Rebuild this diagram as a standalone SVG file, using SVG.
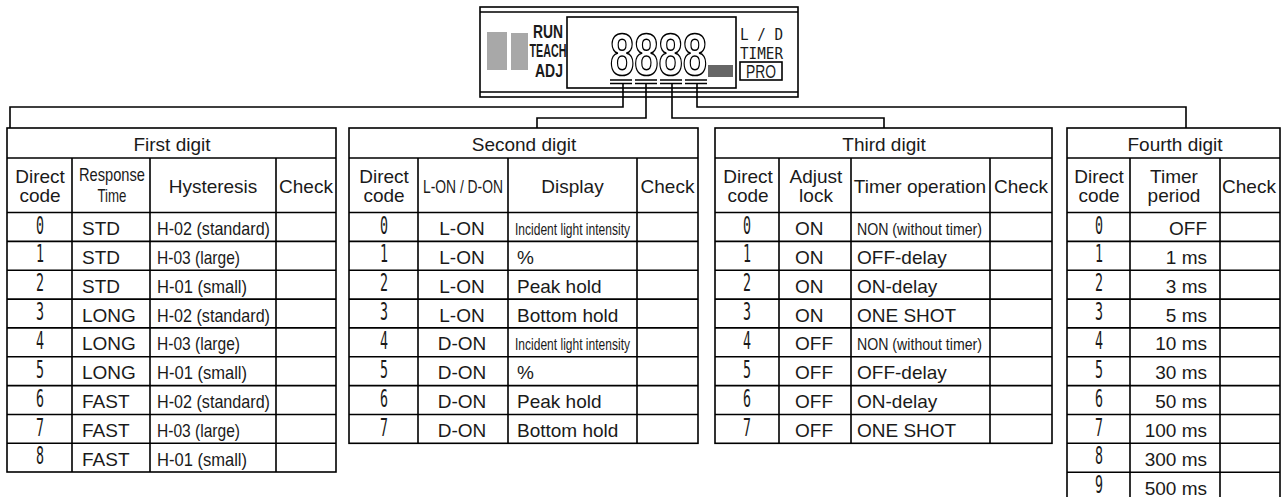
<svg xmlns="http://www.w3.org/2000/svg" width="1282" height="497" viewBox="0 0 1282 497">
<style>
.ln{stroke:#000;stroke-width:1.6;fill:none}
.t{font-family:"Liberation Sans",Arial,sans-serif;font-size:19px;fill:#1a1a1a}
.c{text-anchor:middle}
.r{text-anchor:end}
.sm{font-size:17px}
.dg{font-family:"DejaVu Sans Mono",monospace;font-size:24px;text-anchor:middle;fill:#1a1a1a}
.mono{font-family:"DejaVu Sans Mono","Liberation Mono",monospace;font-size:15px;fill:#1a1a1a}
.seg{font-family:"Liberation Sans",Arial,sans-serif;font-size:60px;font-weight:bold;fill:none;stroke:#000;stroke-width:1.6}
</style>
<rect width="1282" height="497" fill="#fff"/>
<g id="device">
<rect class="ln" x="480" y="7" width="318" height="90"/>
<path class="ln" d="M480 12H798M480 92H798"/>
<rect x="487" y="32" width="20" height="38" fill="#a8a8a8"/>
<rect x="511" y="33" width="17" height="37" fill="#a8a8a8"/>
<text class="t c" x="548" y="38" font-size="14" font-weight="bold" textLength="30" lengthAdjust="spacingAndGlyphs">RUN</text>
<text class="t c" x="548" y="57" font-size="11" font-weight="bold" textLength="37" lengthAdjust="spacingAndGlyphs">TEACH</text>
<text class="t c" x="549" y="77" font-size="17" font-weight="bold" textLength="28" lengthAdjust="spacingAndGlyphs">ADJ</text>
<rect class="ln" x="567" y="17" width="169" height="71"/>
<text class="seg" x="610" y="75" textLength="97" lengthAdjust="spacingAndGlyphs">8888</text>
<path class="ln" stroke-width="1.2" d="M610 80h22M610 83.5h22M635 80h22M635 83.5h22M660 80h22M660 83.5h22M685 80h22M685 83.5h22"/>
<rect x="708" y="65" width="25" height="12" fill="#666"/>
<text class="mono" x="740" y="40" textLength="43" lengthAdjust="spacingAndGlyphs">L / D</text>
<text class="mono" x="740" y="59" textLength="43" lengthAdjust="spacingAndGlyphs">TIMER</text>
<rect class="ln" stroke-width="1.4" x="740" y="62" width="42" height="18"/>
<text class="t c" x="761" y="78" font-size="17" textLength="30" lengthAdjust="spacingAndGlyphs">PRO</text>
</g>
<g id="connectors">
<path class="ln" d="M623 83V107H10V128M646 83V118H537V128M672 83V118H884V128M697 83V107H1186V128"/>
</g>
<g id="table1">
<rect class="ln" x="7" y="128" width="329" height="344"/>
<path class="ln" d="M7 158H336M7 212.5H336M7 241.4H336M7 270.2H336M7 299.1H336M7 327.9H336M7 356.8H336M7 385.6H336M7 414.5H336M7 443.3H336M72 158V472M150 158V472M276 158V472"/>
<text class="t c" x="172" y="151">First digit</text>
<text class="t c" x="40" y="183">Direct</text>
<text class="t c" x="40" y="202">code</text>
<text class="t c" x="112" y="181" font-size="16" textLength="66" lengthAdjust="spacingAndGlyphs">Response</text>
<text class="t c" x="112" y="202" font-size="16" textLength="29" lengthAdjust="spacingAndGlyphs">Time</text>
<text class="t c" x="213" y="193">Hysteresis</text>
<text class="t c" x="306" y="193">Check</text>
<g class="dg">
<text x="40" y="233.5" textLength="8" lengthAdjust="spacingAndGlyphs">0</text>
<text x="40" y="262.4" textLength="8" lengthAdjust="spacingAndGlyphs">1</text>
<text x="40" y="291.2" textLength="8" lengthAdjust="spacingAndGlyphs">2</text>
<text x="40" y="320.1" textLength="8" lengthAdjust="spacingAndGlyphs">3</text>
<text x="40" y="348.9" textLength="8" lengthAdjust="spacingAndGlyphs">4</text>
<text x="40" y="377.8" textLength="8" lengthAdjust="spacingAndGlyphs">5</text>
<text x="40" y="406.6" textLength="8" lengthAdjust="spacingAndGlyphs">6</text>
<text x="40" y="435.5" textLength="8" lengthAdjust="spacingAndGlyphs">7</text>
<text x="40" y="464.3" textLength="8" lengthAdjust="spacingAndGlyphs">8</text>
</g>
<g class="t">
<text x="82" y="235">STD</text>
<text x="82" y="263.9">STD</text>
<text x="82" y="292.7">STD</text>
<text x="82" y="321.6">LONG</text>
<text x="82" y="350.4">LONG</text>
<text x="82" y="379.3">LONG</text>
<text x="82" y="408.1">FAST</text>
<text x="82" y="437">FAST</text>
<text x="82" y="465.8">FAST</text>
<text x="157" y="235" textLength="113" lengthAdjust="spacingAndGlyphs">H-02 (standard)</text>
<text x="157" y="263.9" textLength="83" lengthAdjust="spacingAndGlyphs">H-03 (large)</text>
<text x="157" y="292.7" textLength="90" lengthAdjust="spacingAndGlyphs">H-01 (small)</text>
<text x="157" y="321.6" textLength="113" lengthAdjust="spacingAndGlyphs">H-02 (standard)</text>
<text x="157" y="350.4" textLength="83" lengthAdjust="spacingAndGlyphs">H-03 (large)</text>
<text x="157" y="379.3" textLength="90" lengthAdjust="spacingAndGlyphs">H-01 (small)</text>
<text x="157" y="408.1" textLength="113" lengthAdjust="spacingAndGlyphs">H-02 (standard)</text>
<text x="157" y="437" textLength="83" lengthAdjust="spacingAndGlyphs">H-03 (large)</text>
<text x="157" y="465.8" textLength="90" lengthAdjust="spacingAndGlyphs">H-01 (small)</text>
</g>
</g>
<g id="table2">
<rect class="ln" x="349" y="128" width="349" height="315.3"/>
<path class="ln" d="M349 158H698M349 212.5H698M349 241.4H698M349 270.2H698M349 299.1H698M349 327.9H698M349 356.8H698M349 385.6H698M349 414.5H698M418 158V443.3M508 158V443.3M637 158V443.3"/>
<text class="t c" x="524" y="151">Second digit</text>
<text class="t c" x="384" y="183">Direct</text>
<text class="t c" x="384" y="202">code</text>
<text class="t c" x="463" y="193" font-size="17" textLength="80" lengthAdjust="spacingAndGlyphs">L-ON / D-ON</text>
<text class="t c" x="572.5" y="193">Display</text>
<text class="t c" x="667.5" y="193">Check</text>
<g class="dg">
<text x="384" y="233.5" textLength="8" lengthAdjust="spacingAndGlyphs">0</text>
<text x="384" y="262.4" textLength="8" lengthAdjust="spacingAndGlyphs">1</text>
<text x="384" y="291.2" textLength="8" lengthAdjust="spacingAndGlyphs">2</text>
<text x="384" y="320.1" textLength="8" lengthAdjust="spacingAndGlyphs">3</text>
<text x="384" y="348.9" textLength="8" lengthAdjust="spacingAndGlyphs">4</text>
<text x="384" y="377.8" textLength="8" lengthAdjust="spacingAndGlyphs">5</text>
<text x="384" y="406.6" textLength="8" lengthAdjust="spacingAndGlyphs">6</text>
<text x="384" y="435.5" textLength="8" lengthAdjust="spacingAndGlyphs">7</text>
</g>
<g class="t">
<text class="c" x="462" y="235">L-ON</text>
<text class="c" x="462" y="263.9">L-ON</text>
<text class="c" x="462" y="292.7">L-ON</text>
<text class="c" x="462" y="321.6">L-ON</text>
<text class="c" x="462" y="350.4">D-ON</text>
<text class="c" x="462" y="379.3">D-ON</text>
<text class="c" x="462" y="408.1">D-ON</text>
<text class="c" x="462" y="437">D-ON</text>
<text class="sm" x="515" y="235" textLength="115" lengthAdjust="spacingAndGlyphs">Incident light intensity</text>
<text x="517" y="263.9">%</text>
<text x="517" y="292.7">Peak hold</text>
<text x="517" y="321.6">Bottom hold</text>
<text class="sm" x="515" y="350.4" textLength="115" lengthAdjust="spacingAndGlyphs">Incident light intensity</text>
<text x="517" y="379.3">%</text>
<text x="517" y="408.1">Peak hold</text>
<text x="517" y="437">Bottom hold</text>
</g>
</g>
<g id="table3">
<rect class="ln" x="715" y="128" width="337" height="315.3"/>
<path class="ln" d="M715 158H1052M715 212.5H1052M715 241.4H1052M715 270.2H1052M715 299.1H1052M715 327.9H1052M715 356.8H1052M715 385.6H1052M715 414.5H1052M779 158V443.3M851 158V443.3M990 158V443.3"/>
<text class="t c" x="884" y="151">Third digit</text>
<text class="t c" x="748" y="183">Direct</text>
<text class="t c" x="748" y="202">code</text>
<text class="t c" x="816" y="183">Adjust</text>
<text class="t c" x="816" y="202">lock</text>
<text class="t c" x="920" y="193">Timer operation</text>
<text class="t c" x="1021" y="193">Check</text>
<g class="dg">
<text x="747" y="233.5" textLength="8" lengthAdjust="spacingAndGlyphs">0</text>
<text x="747" y="262.4" textLength="8" lengthAdjust="spacingAndGlyphs">1</text>
<text x="747" y="291.2" textLength="8" lengthAdjust="spacingAndGlyphs">2</text>
<text x="747" y="320.1" textLength="8" lengthAdjust="spacingAndGlyphs">3</text>
<text x="747" y="348.9" textLength="8" lengthAdjust="spacingAndGlyphs">4</text>
<text x="747" y="377.8" textLength="8" lengthAdjust="spacingAndGlyphs">5</text>
<text x="747" y="406.6" textLength="8" lengthAdjust="spacingAndGlyphs">6</text>
<text x="747" y="435.5" textLength="8" lengthAdjust="spacingAndGlyphs">7</text>
</g>
<g class="t">
<text x="795" y="235">ON</text>
<text x="795" y="263.9">ON</text>
<text x="795" y="292.7">ON</text>
<text x="795" y="321.6">ON</text>
<text x="795" y="350.4">OFF</text>
<text x="795" y="379.3">OFF</text>
<text x="795" y="408.1">OFF</text>
<text x="795" y="437">OFF</text>
<text class="sm" x="857" y="235" textLength="125" lengthAdjust="spacingAndGlyphs">NON (without timer)</text>
<text x="857" y="263.9">OFF-delay</text>
<text x="857" y="292.7">ON-delay</text>
<text x="857" y="321.6">ONE SHOT</text>
<text class="sm" x="857" y="350.4" textLength="125" lengthAdjust="spacingAndGlyphs">NON (without timer)</text>
<text x="857" y="379.3">OFF-delay</text>
<text x="857" y="408.1">ON-delay</text>
<text x="857" y="437">ONE SHOT</text>
</g>
</g>
<g id="table4">
<rect class="ln" x="1067" y="128" width="213" height="373"/>
<path class="ln" d="M1067 158H1280M1067 212.5H1280M1067 241.4H1280M1067 270.2H1280M1067 299.1H1280M1067 327.9H1280M1067 356.8H1280M1067 385.6H1280M1067 414.5H1280M1067 443.3H1280M1067 472.2H1280M1130 158V501M1220 158V501"/>
<text class="t c" x="1175" y="151">Fourth digit</text>
<text class="t c" x="1099" y="183">Direct</text>
<text class="t c" x="1099" y="202">code</text>
<text class="t c" x="1174" y="183">Timer</text>
<text class="t c" x="1174" y="202">period</text>
<text class="t c" x="1249" y="193">Check</text>
<g class="dg">
<text x="1099" y="233.5" textLength="8" lengthAdjust="spacingAndGlyphs">0</text>
<text x="1099" y="262.4" textLength="8" lengthAdjust="spacingAndGlyphs">1</text>
<text x="1099" y="291.2" textLength="8" lengthAdjust="spacingAndGlyphs">2</text>
<text x="1099" y="320.1" textLength="8" lengthAdjust="spacingAndGlyphs">3</text>
<text x="1099" y="348.9" textLength="8" lengthAdjust="spacingAndGlyphs">4</text>
<text x="1099" y="377.8" textLength="8" lengthAdjust="spacingAndGlyphs">5</text>
<text x="1099" y="406.6" textLength="8" lengthAdjust="spacingAndGlyphs">6</text>
<text x="1099" y="435.5" textLength="8" lengthAdjust="spacingAndGlyphs">7</text>
<text x="1099" y="464.3" textLength="8" lengthAdjust="spacingAndGlyphs">8</text>
<text x="1099" y="493.2" textLength="8" lengthAdjust="spacingAndGlyphs">9</text>
</g>
<g class="t r">
<text x="1207" y="235">OFF</text>
<text x="1207" y="263.9">1 ms</text>
<text x="1207" y="292.7">3 ms</text>
<text x="1207" y="321.6">5 ms</text>
<text x="1207" y="350.4">10 ms</text>
<text x="1207" y="379.3">30 ms</text>
<text x="1207" y="408.1">50 ms</text>
<text x="1207" y="437">100 ms</text>
<text x="1207" y="465.8">300 ms</text>
<text x="1207" y="494.7">500 ms</text>
</g>
</g>
</svg>
